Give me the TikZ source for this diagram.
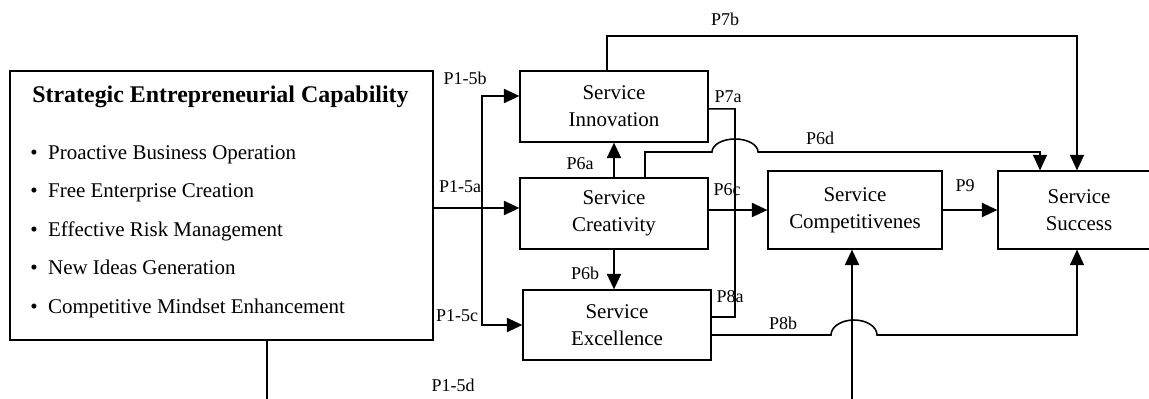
\documentclass[tikz,border=0pt]{standalone}
\usepackage{fontspec}
\setmainfont{Liberation Serif}
\usetikzlibrary{arrows.meta}
\tikzset{
    box/.style={draw,line width=0.8pt,align=center,inner sep=0pt,font=\fontsize{14.9pt}{19pt}\selectfont},
    lbl/.style={inner sep=0pt,font=\fontsize{12.8pt}{15pt}\selectfont},
    item/.style={anchor=base west,inner sep=0pt,font=\fontsize{14.9pt}{18pt}\selectfont},
    arrow/.style={-{Triangle[length=0.39cm,width=0.35cm]},line width=1.6pt},
    link/.style={line width=1.1pt},
    linkarrow/.style={link,-{Triangle[length=0.39cm,width=0.35cm]}}
}

\begin{document}
\begin{tikzpicture}[x=0.025cm,y=-0.025cm]
    \useasboundingbox (0,0) rectangle (1149,399);

    % capability block with its five dimensions
    \node[box,minimum width=10.575cm,minimum height=6.725cm] (sec) at (221.5,205.5) {};
    \node[anchor=base,inner sep=0pt,font=\fontsize{17pt}{20pt}\selectfont\bfseries] (sectitle) at (220.5,103) {Strategic Entrepreneurial Capability};
    \foreach \y/\txt [count=\i] in {160/Proactive Business Operation,198/Free Enterprise Creation,237/Effective Risk Management,275/New Ideas Generation,313/Competitive Mindset Enhancement}
        \node[item] (item\i) at (30,\y) {\textbullet\hspace{7.5pt}\txt};

    % service boxes
    \node[box,minimum width=4.7cm,minimum height=1.775cm] (inno) at (614,106.5) {Service\\Innovation};
    \node[box,minimum width=4.7cm,minimum height=1.775cm] (crea) at (614,213.5) {Service\\Creativity};
    \node[box,minimum width=4.7cm,minimum height=1.75cm] (exce) at (617,325) {Service\\Excellence};
    \node[box,minimum width=4.35cm,minimum height=1.95cm] (comp) at (855,210) {Service\\Competitivenes};
    \node[box,minimum width=4.05cm,minimum height=1.95cm] (succ) at (1079,210) {Service\\Success};

    \coordinate (spine) at (482,208);
    \coordinate (secout) at (267,400);
    \coordinate (compin) at (852,400);

    % P1-5 paths
    \draw[arrow] (sec.east |- spine) -- (crea.west |- spine);
    \draw[arrow] (spine) |- ([yshift=0.2625cm]inno.west);
    \draw[arrow] (spine) |- (exce.west);
    \draw[link] (sec.south -| secout) -- (secout);

    % P6 paths
    \draw[arrow] (crea.north) -- (inno.south);
    \draw[arrow] (crea.south) -- (crea.south |- exce.north);
    \draw[arrow] (crea.east |- comp.west) -- (comp.west);
    \draw[linkarrow] ([xshift=0.775cm]crea.north) |- (712,152)
        arc[start angle=180,end angle=0,x radius=0.575cm,y radius=0.325cm]
        -| ([xshift=-0.975cm]succ.north);

    % P7 and P8 paths
    \draw[linkarrow] ([xshift=-0.175cm]inno.north) |- (1077,36) -- ([xshift=-0.05cm]succ.north);
    \draw[link] ([yshift=-0.06cm]inno.east) -| (735,317) -- ([yshift=0.2cm]exce.east);
    \draw[linkarrow] ([yshift=-0.25cm]exce.east) -- (831,335)
        arc[start angle=180,end angle=0,x radius=0.575cm,y radius=0.375cm]
        -| ([xshift=-0.05cm]succ.south);
    \draw[arrow] (compin) -- (compin |- comp.south);

    % P9
    \draw[arrow] (comp.east) -- (succ.west);

    % path labels
    \node[lbl] (l7b) at (725,19) {P7b};
    \node[lbl] (l15b) at (465,78) {P1-5b};
    \node[lbl] (l7a) at (728,97) {P7a};
    \node[lbl] (l6d) at (820,138) {P6d};
    \node[lbl] (l6a) at (580,164) {P6a};
    \node[lbl] (l15a) at (460,187) {P1-5a};
    \node[lbl] (l6c) at (727,190) {P6c};
    \node[lbl] (l9) at (965,186) {P9};
    \node[lbl] (l6b) at (585,273) {P6b};
    \node[lbl] (l8a) at (730,297) {P8a};
    \node[lbl] (l15c) at (457,316) {P1-5c};
    \node[lbl] (l8b) at (783,323) {P8b};
    \node[lbl] (l15d) at (453,385) {P1-5d};
\end{tikzpicture}
\end{document}
